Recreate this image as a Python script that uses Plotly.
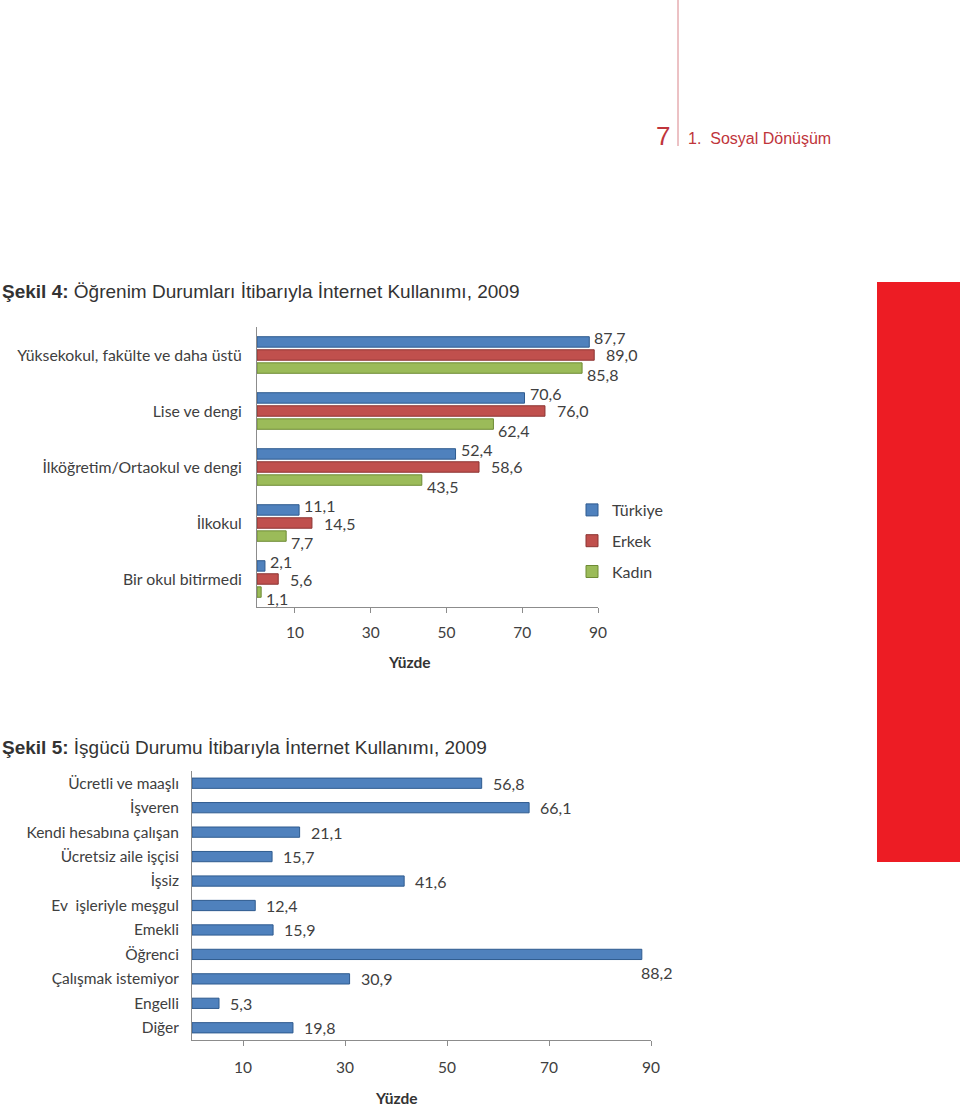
import plotly.graph_objects as go

# ---- Chart 1 data (Şekil 4)
edu_categories = ["Yüksekokul, fakülte ve daha üstü", "Lise ve dengi",
                  "İlköğretim/Ortaokul ve dengi", "İlkokul", "Bir okul bitirmedi"]
turkiye = [87.7, 70.6, 52.4, 11.1, 2.1]
erkek = [89.0, 76.0, 58.6, 14.5, 5.6]
kadin = [85.8, 62.4, 43.5, 7.7, 1.1]
series_names = ["Türkiye", "Erkek", "Kadın"]

# ---- Chart 2 data (Şekil 5)
work_categories = ["Ücretli ve maaşlı", "İşveren", "Kendi hesabına çalışan",
                   "Ücretsiz aile işçisi", "İşsiz", "Ev  işleriyle meşgul", "Emekli",
                   "Öğrenci", "Çalışmak istemiyor", "Engelli", "Diğer"]
work_values = [56.8, 66.1, 21.1, 15.7, 41.6, 12.4, 15.9, 88.2, 30.9, 5.3, 19.8]

tick_vals = [10, 30, 50, 70, 90]
x_max = 90

W, H = 960, 1109
def py(px):  # pixel from top -> paper
    return 1 - px / H
def pxx(px):
    return px / W

def fmt(v):
    return f"{v:.1f}".replace(".", ",")

FONT = "Lato"
TXT = "#404040"
AX = "#8c8c8c"

fills = ["#4F81BD", "#C0504D", "#9BBB59"]
lines = ["#2f5b8f", "#8c3432", "#6e8b35"]

BARGAP = 0.3
fig = go.Figure()
for name, vals, fc, lc in zip(series_names, [turkiye, erkek, kadin], fills, lines):
    fig.add_trace(go.Bar(
        y=edu_categories, x=vals, orientation="h", name=name,
        marker=dict(color=fc, line=dict(color=lc, width=1)),
        xaxis="x", yaxis="y", legendgroup=name))

fig.add_trace(go.Bar(
    y=work_categories, x=work_values, orientation="h", width=0.42,
    marker=dict(color=fills[0], line=dict(color=lines[0], width=1)),
    xaxis="x2", yaxis="y2", showlegend=False))

axis_common = dict(showline=True, linecolor=AX, linewidth=1, showgrid=False,
                   zeroline=False, fixedrange=True, automargin=False)

fig.update_layout(
    width=W, height=H, margin=dict(l=0, r=0, t=0, b=0, pad=0),
    paper_bgcolor="white", plot_bgcolor="white",
    separators=",.",
    barmode="group", bargap=BARGAP, bargroupgap=0.2,
    font=dict(family=FONT, color=TXT),
    xaxis=dict(domain=[pxx(257), pxx(598)], range=[0, x_max], anchor="y",
               tickvals=tick_vals, ticks="outside", ticklen=5, tickcolor=AX,
               ticklabelstandoff=6, tickfont=dict(family=FONT, size=15.5, color=TXT),
               **axis_common),
    yaxis=dict(domain=[py(607), py(327)], anchor="x", autorange="reversed",
               ticks="", ticklabelstandoff=11,
               tickfont=dict(family=FONT, size=15.8, color=TXT), **axis_common),
    xaxis2=dict(domain=[pxx(192), pxx(651)], range=[0, x_max], anchor="y2",
                tickvals=tick_vals, ticks="outside", ticklen=5, tickcolor=AX,
                ticklabelstandoff=8, tickfont=dict(family=FONT, size=15.5, color=TXT),
                **axis_common),
    yaxis2=dict(domain=[py(1040), py(771)], anchor="x2", autorange="reversed",
                ticks="", ticklabelstandoff=9,
                tickfont=dict(family=FONT, size=15.5, color=TXT), **axis_common),
    legend=dict(x=pxx(572), y=py(493), xanchor="left", yanchor="top",
                font=dict(family=FONT, size=16, color=TXT),
                tracegroupgap=7, traceorder="grouped", bgcolor="rgba(0,0,0,0)",
                itemwidth=30),
    showlegend=True,
)

red = "#c0353b"
ann = [
    dict(text="7", x=pxx(672), y=py(136), xanchor="right", yanchor="middle",
         font=dict(family="Liberation Sans", size=26, color=red)),
    dict(text="1.  Sosyal Dönüşüm", x=pxx(686), y=py(138), xanchor="left", yanchor="middle",
         font=dict(family="Liberation Sans", size=16, color=red)),
    dict(text="<b>Şekil 4:</b> Öğrenim Durumları İtibarıyla İnternet Kullanımı, 2009",
         x=0, y=py(291), xanchor="left", yanchor="middle",
         font=dict(family="Liberation Sans", size=19, color="#333333")),
    dict(text="<b>Şekil 5:</b> İşgücü Durumu İtibarıyla İnternet Kullanımı, 2009",
         x=0, y=py(747), xanchor="left", yanchor="middle",
         font=dict(family="Liberation Sans", size=19, color="#333333")),
    dict(text="<b>Yüzde</b>", x=pxx(409), y=py(662), xanchor="center", yanchor="middle",
         font=dict(family=FONT, size=15.5, color="#333333")),
    dict(text="<b>Yüzde</b>", x=pxx(396), y=py(1098), xanchor="center", yanchor="middle",
         font=dict(family=FONT, size=15.5, color="#333333")),
]
for a in ann:
    a.update(xref="paper", yref="paper", showarrow=False)

# Data labels chart 1: staggered like the original (Excel) layout
slot = (1 - BARGAP) / 3
label_style = [(3, 4), (10, 0), (3, -6)]  # (xshift, yshift) per series
for s, vals in enumerate([turkiye, erkek, kadin]):
    xs, ys = label_style[s]
    for i, v in enumerate(vals):
        ann.append(dict(text=fmt(v), x=v, y=i + (s - 1) * slot, xref="x", yref="y",
                        xanchor="left", yanchor="middle", xshift=xs, yshift=ys,
                        showarrow=False, font=dict(family=FONT, size=16, color=TXT)))

# Data labels chart 2
for i, v in enumerate(work_values):
    if v > 80:
        a = dict(xanchor="left", xshift=-3, yshift=-18)
    else:
        a = dict(xanchor="left", xshift=9, yshift=0)
    ann.append(dict(text=fmt(v), x=v, y=i, xref="x2", yref="y2", yanchor="middle",
                    showarrow=False, font=dict(family=FONT, size=16, color=TXT), **a))

fig.update_layout(annotations=ann)

fig.update_layout(shapes=[
    dict(type="line", xref="paper", yref="paper", x0=pxx(678), x1=pxx(678),
         y0=py(0), y1=py(146), line=dict(color="#d9848a", width=1)),
    dict(type="rect", xref="paper", yref="paper", x0=pxx(877), x1=1,
         y0=py(862), y1=py(282), fillcolor="#ed1c24", line=dict(width=0), layer="below"),
])

fig.write_html("out.html")
